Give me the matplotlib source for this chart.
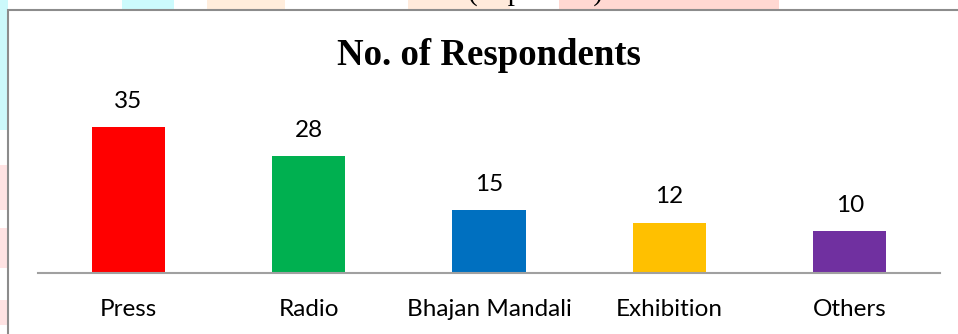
import matplotlib
matplotlib.use("Agg")
import matplotlib.pyplot as plt
import matplotlib.patches as patches

# Survey sources and respondent counts
sources = ["Press", "Radio", "Bhajan Mandali", "Exhibition", "Others"]
respondents = [35, 28, 15, 12, 10]
bar_colours = ["#FF0000", "#00B050", "#0070C0", "#FFC000", "#7030A0"]

W, H = 958, 334
fig = plt.figure(figsize=(W / 100, H / 100), dpi=100)
fig.patch.set_facecolor("white")


def fx(px):
    return px / W


def fy(py):
    return 1 - py / H


# Faint page colour showing round the chart frame
page_bits = [
    (0, 0, 8, 130, "#ccf9fb"),
    (122, 0, 52, 9, "#ccfbfd"),
    (207, 0, 78, 9, "#ffeddc"),
    (408, 0, 102, 9, "#ffeadb"),
    (559, 0, 220, 9, "#ffd8d2"),
    (0, 165, 7, 45, "#ffe3e3"),
    (0, 228, 7, 40, "#ffe3e3"),
    (0, 300, 7, 25, "#ffe3e3"),
]
for x0, y0, w, h, c in page_bits:
    fig.patches.append(patches.Rectangle((fx(x0), fy(y0 + h)), w / W, h / H,
                                         transform=fig.transFigure,
                                         facecolor=c, edgecolor="none", zorder=0))

# Caption of the page above; only its lowest strokes fall inside the picture
fig.text(fx(535), fy(-0.5), "(in percent)", family="Liberation Serif",
         fontsize=21, ha="center", va="baseline", zorder=0.5)

# Chart frame
fig.patches.append(patches.Rectangle((fx(8), fy(H + 20)), (W + 20) / W, (H + 10) / H,
                                     transform=fig.transFigure, facecolor="white",
                                     edgecolor="#8c8c8c", linewidth=1.5, zorder=1))

ax_left, ax_right, ax_bottom, ax_top = 38, 940, 272.7, 106.2
ax = fig.add_axes([fx(ax_left), fy(ax_bottom), (ax_right - ax_left) / W,
                   (ax_bottom - ax_top) / H])
ax.set_zorder(2)
ax.patch.set_visible(False)

x = range(len(sources))
bars = ax.bar(x, respondents, width=0.405, color=bar_colours, zorder=2)
ax.set_xlim(-0.5, len(sources) - 0.5)
ax.set_ylim(0, 40)

for side in ["top", "right", "left"]:
    ax.spines[side].set_visible(False)
ax.spines["bottom"].set_color("#a0a0a0")
ax.spines["bottom"].set_linewidth(1.5)
ax.set_xticks([])
ax.set_yticks([])

label_font = dict(family="Lato", fontsize=17.5, color="black")
for i, (b, v) in enumerate(zip(bars, respondents)):
    ax.annotate(str(v), (i, v), xytext=(0, 14), textcoords="offset points",
                ha="center", va="baseline", **label_font)
    ax.annotate(sources[i], (i, 0), xytext=(0, -31.2), textcoords="offset points",
                ha="center", va="baseline", **label_font)

fig.text(fx(488.5), fy(65), "No. of Respondents", family="Liberation Serif",
         fontweight="bold", fontsize=26.5, ha="center", va="baseline", zorder=3)

plt.savefig("out.png", dpi=100)
